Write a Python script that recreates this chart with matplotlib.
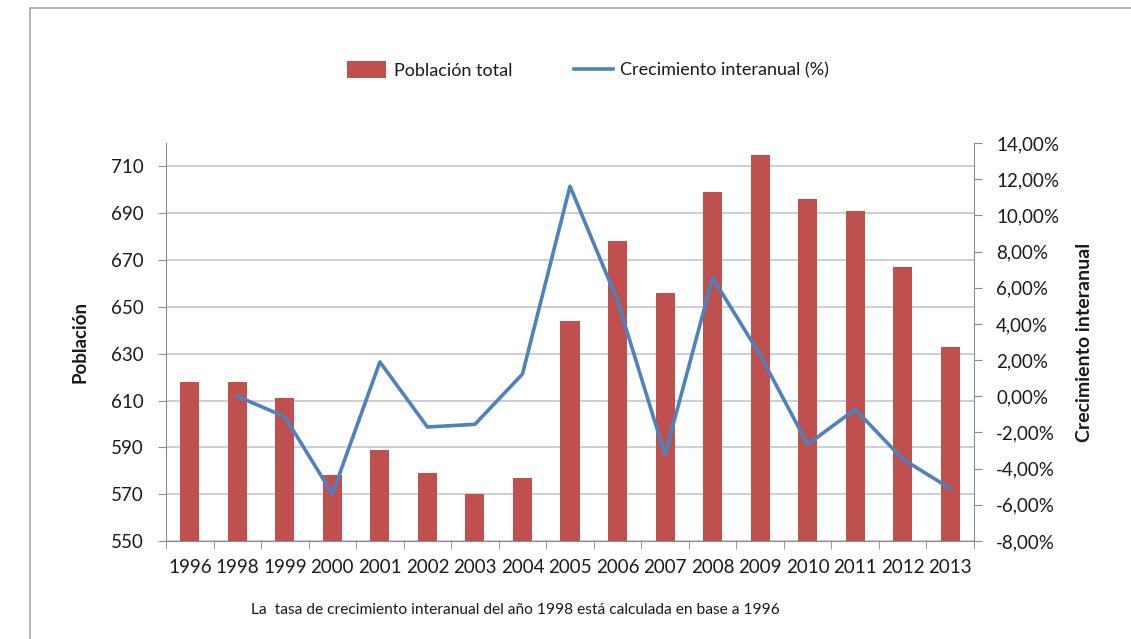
import numpy as np
import matplotlib.pyplot as plt
from matplotlib.patches import Rectangle
from matplotlib.ticker import FuncFormatter

plt.rcParams['font.family'] = ['Lato', 'DejaVu Sans']

years = ['1996', '1998', '1999', '2000', '2001', '2002', '2003', '2004', '2005',
         '2006', '2007', '2008', '2009', '2010', '2011', '2012', '2013']
poblacion = [618, 618, 611, 578, 589, 579, 570, 577, 644,
             678, 656, 699, 715, 696, 691, 667, 633]
# no growth value for 1996
crecimiento = [np.nan, 0.0, -1.13, -5.40, 1.90, -1.70, -1.55, 1.23, 11.61,
               5.28, -3.24, 6.55, 2.29, -2.66, -0.72, -3.47, -5.10]

red = '#C0504D'
blue = '#4F81BD'
grid_c = '#C3C6CC'
axis_c = '#8C8C8C'
txt_c = '#1A1A1A'

fig = plt.figure(figsize=(11.31, 6.39), dpi=100)
fig.patches.append(Rectangle((30 / 1131, -0.01), 1.2, 1 - 8 / 639 + 0.01,
                             transform=fig.transFigure, fill=False,
                             edgecolor='#A6A6A6', linewidth=1.2))

ax = fig.add_axes([166 / 1131, 1 - 541 / 639, 808 / 1131, 398 / 639])
x = np.arange(len(years))
ax.bar(x, poblacion, width=0.4, color=red, zorder=2, label='Población total')
ax.set_ylim(550, 720)
ax.set_xlim(-0.5, len(years) - 0.5)
ax.set_yticks(range(550, 711, 20))
ax.yaxis.grid(True, color=grid_c, linewidth=1.2, zorder=0)
ax.set_axisbelow(True)
ax.set_xticks(x)
ax.set_xticklabels(years, fontsize=13.5, color=txt_c)
ax.set_xticks(np.arange(-0.5, len(years)), minor=True)
ax.tick_params(axis='x', which='major', length=0, pad=13)
ax.tick_params(axis='x', which='minor', length=6, color=axis_c, direction='out')
ax.tick_params(axis='y', length=6, color=axis_c, labelsize=13.5, labelcolor=txt_c, pad=10)
for s in ['top', 'right']:
    ax.spines[s].set_visible(False)
for s in ['left', 'bottom']:
    ax.spines[s].set_color(axis_c)
ax.set_ylabel('Población', fontsize=13.5, fontweight='bold', labelpad=16, color=txt_c)

ax2 = ax.twinx()
ax2.plot(x, crecimiento, color=blue, linewidth=2.6, zorder=3,
         label='Crecimiento interanual (%)')
ax2.set_ylim(-8, 14)
ax2.set_yticks(range(-8, 15, 2))
ax2.yaxis.set_major_formatter(FuncFormatter(lambda v, p: f'{v:.2f}%'.replace('.', ',')))
ax2.tick_params(axis='y', length=6, color=axis_c, labelsize=13.5, labelcolor=txt_c, pad=10)
for s in ['top', 'left', 'bottom']:
    ax2.spines[s].set_visible(False)
ax2.spines['right'].set_color(axis_c)
ax2.set_ylabel('Crecimiento interanual', fontsize=14, fontweight='bold', labelpad=12,
               color=txt_c)

h1, l1 = ax.get_legend_handles_labels()
h2, l2 = ax2.get_legend_handles_labels()
fig.legend(h1 + h2, l1 + l2, loc='center', bbox_to_anchor=(588 / 1131, 1 - 70 / 639),
           ncol=2, frameon=False, fontsize=13, handlelength=2.2, handleheight=1.0,
           columnspacing=3.4, handletextpad=0.4, labelcolor=txt_c)

fig.text(515 / 1131, 1 - 610 / 639,
         'La  tasa de crecimiento interanual del año 1998 está calculada en base a 1996',
         ha='center', va='center', fontsize=11.2, color=txt_c)

fig.savefig('out.png', dpi=100)
